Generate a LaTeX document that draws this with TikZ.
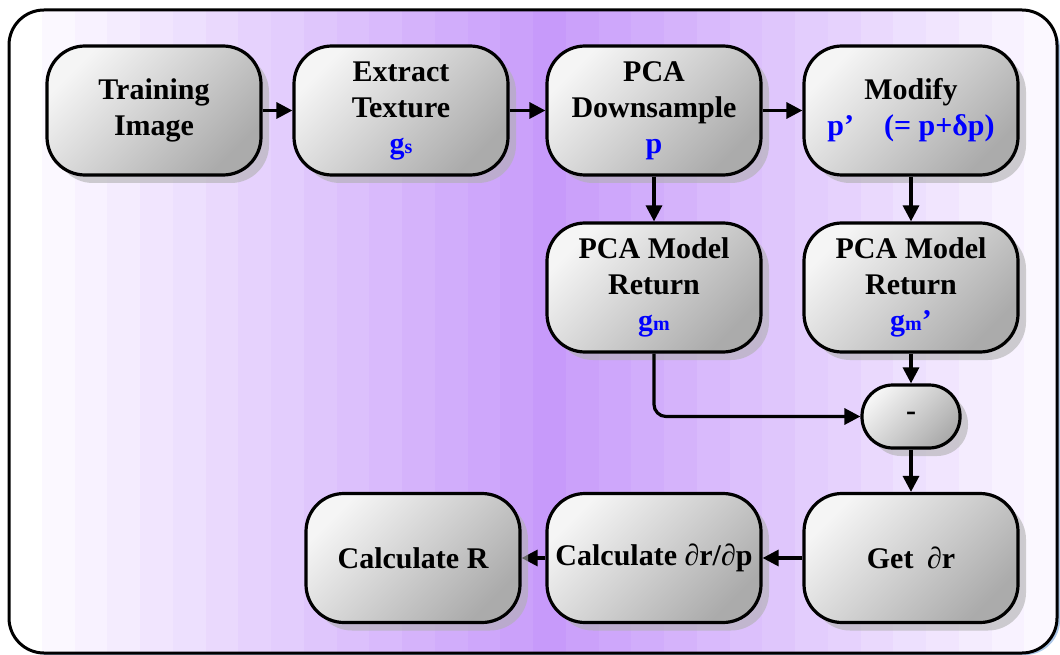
\documentclass[tikz,border=0pt]{standalone}
\usepackage{fontspec}
\setmainfont{Liberation Serif}
\usetikzlibrary{arrows.meta,shadows}

\pgfdeclarelayer{base}
\pgfdeclarelayer{wires}
\pgfsetlayers{base,wires,main}

\definecolor{bandpeak}{RGB}{199,154,250}
\definecolor{bandedge}{RGB}{251,248,255}
\definecolor{textblue}{RGB}{0,0,255}
\definecolor{frameshadow}{RGB}{172,200,232}
\definecolor{boxshadow}{RGB}{176,176,176}

% small index letter set on the baseline
\newcommand\lowidx[1]{{\fontsize{20pt}{20pt}\selectfont #1}}
% slanted partial sign
\newcommand\dpart{{\mdseries\itshape ∂}}

\tikzset{
  stepbox/.style={draw=black, line width=3.2pt, rounded corners=38pt,
    minimum width=214pt, minimum height=129pt, inner sep=2pt, align=center,
    top color=black!4, bottom color=black!33, shading angle=45,
    font=\bfseries\fontsize{30pt}{36pt}\selectfont,
    drop shadow={shadow xshift=8pt, shadow yshift=-8pt, fill=boxshadow, opacity=0.6}},
  flow/.style={line width=3.2pt, -{Triangle[length=16pt,width=16pt]}},
}

\begin{document}
\begin{tikzpicture}[x=1pt,y=-1pt]
\useasboundingbox (0,0) rectangle (1060,655);

\begin{pgfonlayer}{base}
  % frame shadow
  \fill[frameshadow, rounded corners=35pt] (13,14) rectangle (1060,655);
  % banded background inside the frame
  \begin{scope}
    \clip[rounded corners=35pt] (9,10) rectangle (1057,653);
    \fill[white] (9,10) rectangle (1057,653);
    \foreach \i in {0,...,30} {
      \pgfmathtruncatemacro\pct{100*(1-abs(\i-15)/15)}
      \pgfmathsetmacro\xa{42+\i*32.742}
      \pgfmathsetmacro\xb{42+(\i+1)*32.742+0.6}
      \fill[bandpeak!\pct!bandedge] (\xa,10) rectangle (\xb,653);
    }
  \end{scope}
  \draw[line width=3pt, rounded corners=35pt] (9,10) rectangle (1057,653);
\end{pgfonlayer}

% process boxes
\node[stepbox] (train) at (154,110.5) {Training\\Image};
\node[stepbox] (ext)   at (401,110.5) {Extract\\Texture\\\textcolor{textblue}{g\lowidx{s}}};
\node[stepbox] (pcad)  at (654,110.5) {PCA\\Downsample\\\textcolor{textblue}{p}};
\node[stepbox] (mod)   at (911,110.5) {Modify\\\textcolor{textblue}{p’\hspace{1em}(= p+δp)}};
\node[stepbox] (pml)   at (654,287.5) {PCA Model\\Return\\\textcolor{textblue}{g\lowidx{m}}};
\node[stepbox] (pmr)   at (911,287.5) {PCA Model\\Return\\\textcolor{textblue}{g\lowidx{m}’}};
\node[stepbox, rounded corners=31pt, minimum width=98pt, minimum height=63pt] (minus) at (911,416.5) {-};
\node[stepbox] (getr)  at (911,558) {Get\hspace{0.45em}\dpart r};
\node[stepbox] (calc)  at (654,558) {Calculate \dpart r/\dpart p};
\node[stepbox] (calcR) at (413,558) {Calculate R};

% connectors
\draw[flow] (train.east) -- (ext.west);
\draw[flow] (ext.east) -- (pcad.west);
\draw[flow] (pcad.east) -- (mod.west);
\draw[flow] (pcad.south) -- (pml.north);
\draw[flow] (mod.south) -- (pmr.north);
\draw[flow] (pmr.south) -- (minus.north);
\draw[flow, rounded corners=12pt] (pml.south) |- (minus.west);
\draw[flow] (minus.south) -- (getr.north);
\draw[flow] (getr.west) -- (calc.east);
\begin{pgfonlayer}{wires}
  \draw[flow] (calc.west) -- (calcR.east);
\end{pgfonlayer}
\end{tikzpicture}
\end{document}
